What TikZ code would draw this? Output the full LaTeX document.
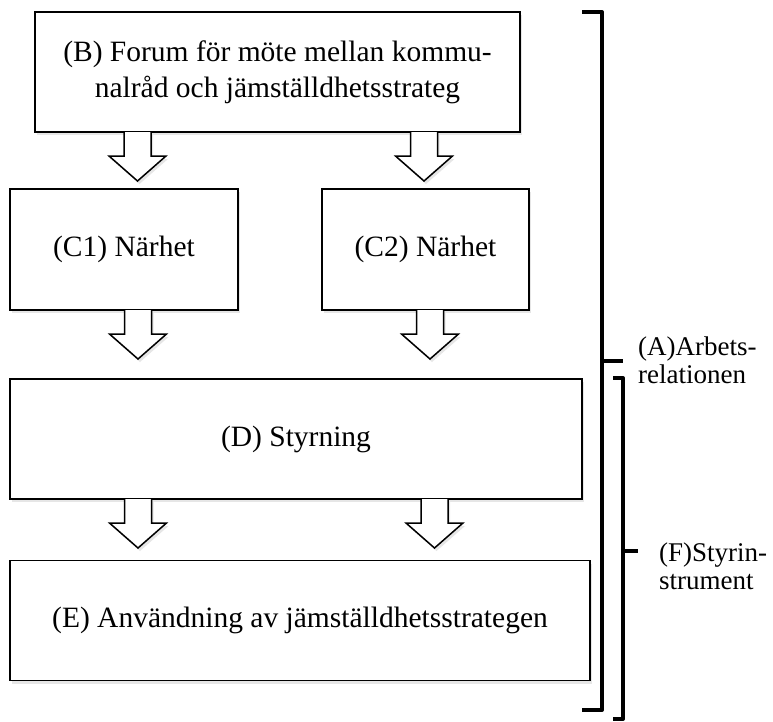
\documentclass[tikz,border=0pt]{standalone}
\usepackage{fontspec}
\setmainfont{Liberation Serif}
\usepackage{tikz}
\usetikzlibrary{shadows}

\tikzset{
  box/.style={draw=black, line width=1.5pt, fill=white, inner sep=0pt, outer sep=0pt,
    align=center, font=\fontsize{29.5}{36}\selectfont,
    drop shadow={shadow xshift=2pt, shadow yshift=-3pt, opacity=0.2}},
  blockarr/.style={draw=black, line width=1.5pt, fill=white, line join=miter,
    drop shadow={shadow xshift=2pt, shadow yshift=-3pt, opacity=0.2}},
  bracket/.style={line width=4pt, line join=round},
  sidelabel/.style={anchor=west, align=left, inner sep=0pt, font=\fontsize{27}{28}\selectfont}
}

% hollow arrow hanging under a box
\newcommand{\blockarrow}[2]{%
  \path[blockarr] (#1,0 |- #2.south) ++(-13.5,0) -- ++(0,24) -- ++(-15,0) -- ++(28.5,25)
    -- ++(28.5,-25) -- ++(-15,0) -- ++(0,-24);
}

\begin{document}
\begin{tikzpicture}[x=1pt,y=-1pt]
            \useasboundingbox (0,0) rectangle (773,721);

            \node[box, minimum width=485pt, minimum height=120pt] (B) at (277.5,72) {(B) Forum för möte mellan kommu-\\nalråd och jämställdhetsstrateg};
            \node[box, minimum width=228pt, minimum height=121pt] (C1) at (124,249.5) {(C1) Närhet};
            \node[box, minimum width=207pt, minimum height=121pt] (C2) at (425.5,249.5) {(C2) Närhet};
            \node[box, minimum width=572pt, minimum height=120pt] (D) at (296,439) {(D) Styrning};
            \node[box, minimum width=580pt, minimum height=120pt] (E) at (300,620.5) {(E) Användning av jämställdhetsstrategen};

            \blockarrow{137.5}{B}
            \blockarrow{424}{B}
            \blockarrow{138}{C1}
            \blockarrow{430}{C2}
            \blockarrow{138}{D}
            \blockarrow{434.5}{D}

            % (A) bracket
            \node[sidelabel] (A) at (638,360) {(A)Arbets-\\relationen};
            \draw[bracket] (582,12) -- (602,12) -- (602,710) -- (582,710);
            \draw[bracket] (602,361) -- (623,361);

            % (F) bracket
            \node[sidelabel] (F) at (659,566) {(F)Styrin-\\strument};
            \draw[bracket] (613,378) -- (623,378) -- (623,719) -- (613,719);
            \draw[bracket] (623,551) -- (638,551);
        \end{tikzpicture}
\end{document}
